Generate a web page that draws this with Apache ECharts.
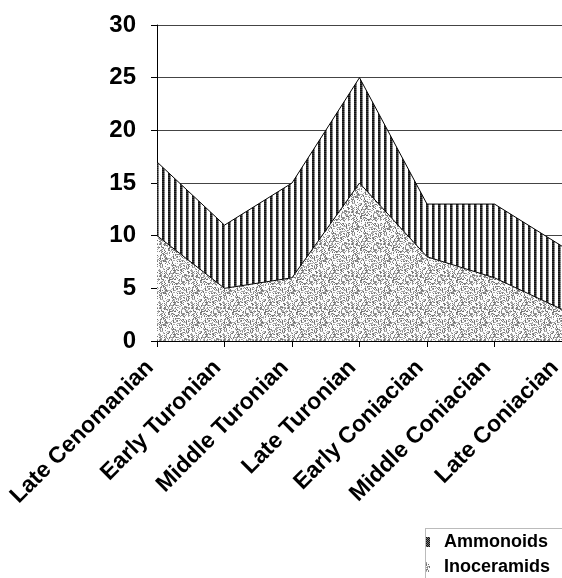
<!DOCTYPE html>
<html><head><meta charset="utf-8">
<script src="https://cdn.jsdelivr.net/npm/echarts@6/dist/echarts.min.js"></script>
<style>html,body{margin:0;padding:0;background:#fff;overflow:hidden}#c{width:562px;height:578px}</style>
</head><body><div id="c"></div>
<script>
const categories = ['Late Cenomanian','Early Turonian','Middle Turonian','Late Turonian','Early Coniacian','Middle Coniacian','Late Coniacian'];
const inoceramids = [10, 5, 6, 15, 8, 6, 3];
const ammonoids = [7, 6, 9, 10, 5, 7, 6];
const yMin = 0, yMax = 30, yStep = 5;

const FONT = '"Liberation Sans", Arial, sans-serif';

function stripeCanvas(){
  const c = document.createElement('canvas'); c.width = 6; c.height = 2;
  const g = c.getContext('2d');
  g.fillStyle = '#fff'; g.fillRect(0,0,6,2);
  g.fillStyle = '#111'; g.fillRect(0,0,2,1);
  g.fillStyle = '#3a3a3a'; g.fillRect(0,1,2,1);
  g.fillStyle = '#777'; g.fillRect(2,0,1,1);
  g.fillStyle = '#999'; g.fillRect(2,1,1,1);
  return c;
}
function stippleCanvas(){
  const n = 32;
  const c = document.createElement('canvas'); c.width = n; c.height = n;
  const g = c.getContext('2d');
  const img = g.createImageData(n, n);
  for (let y = 0; y < n; y++) for (let x = 0; x < n; x++) {
    let h = Math.imul(x + 17, 374761393) ^ Math.imul(y + 31, 668265263);
    h = Math.imul(h ^ (h >>> 13), 1274126177);
    h = (h ^ (h >>> 16)) >>> 0;
    const v = h % 100;
    let lv = 252;
    if (v < 42) lv = 105 + (h >>> 8) % 85;
    const i = (y * n + x) * 4;
    img.data[i] = img.data[i+1] = img.data[i+2] = lv; img.data[i+3] = 255;
  }
  g.putImageData(img, 0, 0);
  return c;
}
function checkerCanvas(){
  const c = document.createElement('canvas'); c.width = 2; c.height = 2;
  const g = c.getContext('2d');
  g.fillStyle = '#777'; g.fillRect(0,0,2,2);
  g.fillStyle = '#111'; g.fillRect(0,0,1,1); g.fillRect(1,1,1,1);
  return c;
}
const stripePat = {image: stripeCanvas(), repeat: 'repeat'};
const stipplePat = {image: stippleCanvas(), repeat: 'repeat'};
const checkerPat = {image: checkerCanvas(), repeat: 'repeat'};

const chart = echarts.init(document.getElementById('c'), null, {renderer: 'canvas'});
chart.setOption({
  animation: false,
  backgroundColor: '#fff',
  grid: {left: 157, right: 0, top: 25, bottom: 237, containLabel: false, outerBoundsMode: 'none'},
  xAxis: {
    type: 'category', data: categories, boundaryGap: false,
    axisLine: {lineStyle: {color: '#000', width: 1}},
    axisTick: {show: true, length: 6, alignWithLabel: true, lineStyle: {color: '#000'}},
    axisLabel: {rotate: 45, interval: 0, margin: 16, padding: [0, 10, 0, 0], color: '#000', fontFamily: FONT, fontWeight: 'bold', fontSize: 23}
  },
  yAxis: {
    type: 'value', min: yMin, max: yMax, interval: yStep,
    axisLine: {show: true, lineStyle: {color: '#000', width: 1}},
    axisTick: {show: true, length: 6, lineStyle: {color: '#000'}},
    axisLabel: {margin: 21, color: '#000', fontFamily: FONT, fontWeight: 'bold', fontSize: 24},
    splitLine: {show: true, lineStyle: {color: '#444', width: 1}}
  },
  legend: {
    orient: 'vertical', left: 426, top: 533, itemWidth: 4, itemHeight: 10, itemGap: 7,
    icon: 'rect', padding: 0,
    textStyle: {fontFamily: FONT, fontWeight: 'bold', fontSize: 18, color: '#000', padding: [0,0,0,9]},
    data: [
      {name: 'Ammonoids', itemStyle: {color: checkerPat}},
      {name: 'Inoceramids', itemStyle: {color: stipplePat}}
    ]
  },
  graphic: [{
    type: 'rect', left: 423, top: 526, shape: {width: 200, height: 100},
    style: {fill: 'none', stroke: '#777', lineWidth: 1, lineDash: [1, 1]}, silent: true
  }],
  series: [
    {
      name: 'Inoceramids', type: 'line', stack: 'total', data: inoceramids, z: 3,
      symbol: 'none', lineStyle: {color: '#000', width: 1},
      itemStyle: {color: stipplePat},
      areaStyle: {color: stipplePat, opacity: 1}
    },
    {
      name: 'Ammonoids', type: 'line', stack: 'total', data: ammonoids, z: 2,
      symbol: 'none', lineStyle: {color: '#000', width: 1},
      itemStyle: {color: checkerPat},
      areaStyle: {color: stripePat, opacity: 1}
    }
  ]
});
</script></body></html>
